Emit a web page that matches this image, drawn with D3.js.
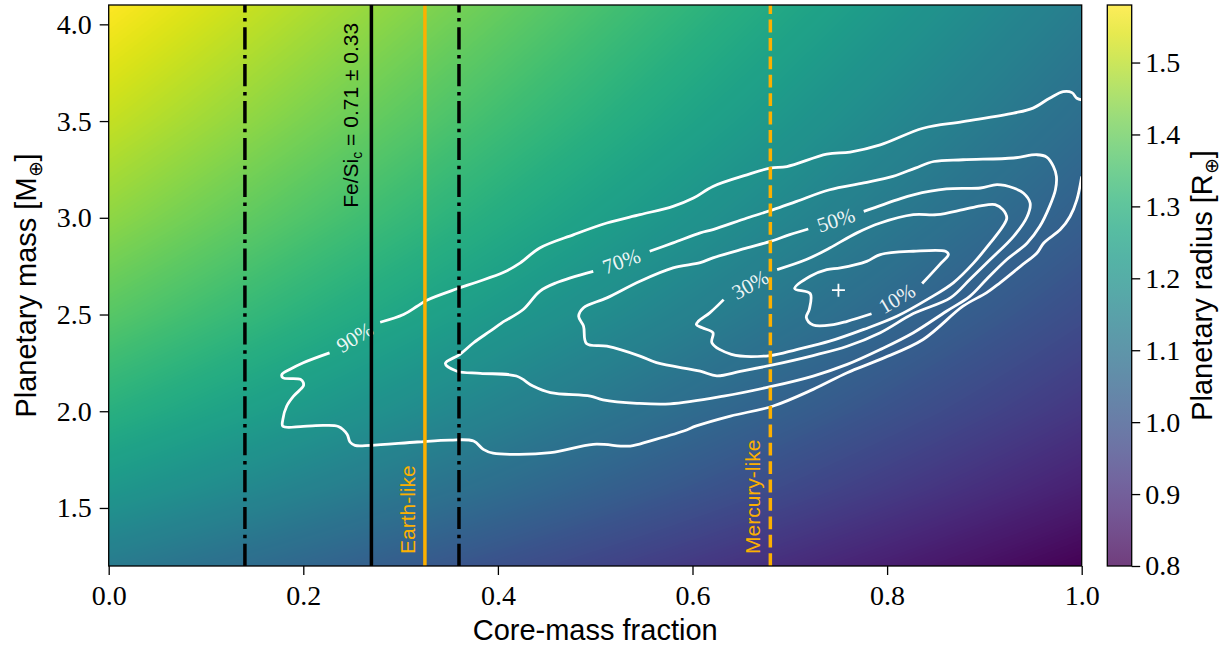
<!DOCTYPE html>
<html>
<head>
<meta charset="utf-8">
<style>
    body { margin: 0; background: #fff; }
    svg { display: block; }
    .tick text { font-family: "Liberation Serif", serif; font-size: 28px; fill: #000; }
    .tick line { stroke: #000; stroke-width: 1.3px; }
    .domain { display: none; }
    .axis-label { font-family: "Liberation Sans", Arial, sans-serif; font-size: 29px; fill: #000; }
    .note { font-family: "Liberation Sans", Arial, sans-serif; font-size: 21px; }
    .clabel { font-family: "Liberation Serif", serif; font-size: 21px; fill: #fff; }
</style>
</head>
<body>
<svg width="1229" height="648"></svg>
<script src="https://d3js.org/d3.v7.min.js"></script>
<script>
// model grid: rows = mass, columns = core-mass fraction
const cmfGrid = [0, 0.25, 0.5, 0.75, 1.0];
const massGrid = [1.2, 1.6, 2.0, 2.5, 3.0, 3.5, 4.1];
const radiusGrid = [
    [1.121, 1.041, 0.960, 0.880, 0.800],
    [1.215, 1.128, 1.041, 0.954, 0.867],
    [1.293, 1.201, 1.108, 1.015, 0.923],
    [1.377, 1.278, 1.180, 1.081, 0.982],
    [1.449, 1.345, 1.241, 1.137, 1.034],
    [1.512, 1.404, 1.296, 1.187, 1.079],
    [1.581, 1.468, 1.355, 1.241, 1.128]
];
const radiusRange = [0.8, 1.58];

const xTicks = [0, 0.2, 0.4, 0.6, 0.8, 1.0];
const yTicks = [1.5, 2.0, 2.5, 3.0, 3.5, 4.0];
const cbarTicks = [0.8, 0.9, 1.0, 1.1, 1.2, 1.3, 1.4, 1.5];

// Fe/Si_c constraint: lower, mean, upper core-mass fraction
const feSiCmf = [0.14, 0.27, 0.36];
const earthCmf = 0.325;
const mercuryCmf = 0.68;
const bestFit = [0.75, 2.626];

// posterior contours (cmf, mass), each starts just after its inline label
const contourNames = ["90%", "70%", "50%", "30%", "10%"];
const contour90 = [
    [0.279, 2.460], [0.303, 2.500], [0.317, 2.543], [0.327, 2.574], [0.358, 2.633], [0.378, 2.667],
    [0.406, 2.718], [0.423, 2.767], [0.443, 2.844], [0.478, 2.913], [0.512, 2.973], [0.546, 3.016],
    [0.580, 3.059], [0.601, 3.102], [0.621, 3.162], [0.656, 3.222], [0.680, 3.257], [0.697, 3.265],
    [0.738, 3.329], [0.762, 3.340], [0.793, 3.377], [0.837, 3.463], [0.878, 3.497], [0.930, 3.541],
    [0.950, 3.567], [0.967, 3.618], [0.981, 3.652], [0.990, 3.647], [0.995, 3.618], [1.000, 3.609],
    null,
    [1.000, 3.214], [0.995, 3.093], [0.988, 3.007], [0.978, 2.939], [0.961, 2.870], [0.954, 2.818],
    [0.937, 2.749], [0.916, 2.664], [0.902, 2.612], [0.878, 2.543], [0.837, 2.371], [0.793, 2.268],
    [0.759, 2.199], [0.724, 2.113], [0.683, 2.027], [0.639, 1.975], [0.604, 1.924], [0.591, 1.898],
    [0.556, 1.846], [0.536, 1.820], [0.498, 1.829], [0.454, 1.786], [0.395, 1.783], [0.385, 1.803],
    [0.375, 1.846], [0.351, 1.851], [0.317, 1.841], [0.269, 1.824], [0.253, 1.824], [0.248, 1.841],
    [0.245, 1.881], [0.236, 1.921], [0.221, 1.927], [0.200, 1.922], [0.179, 1.922], [0.179, 1.958],
    [0.183, 2.027], [0.190, 2.078], [0.200, 2.130], [0.200, 2.148], [0.197, 2.165], [0.179, 2.173],
    [0.178, 2.190], [0.186, 2.216], [0.200, 2.251], [0.227, 2.302]
];
const contour70 = [
    [0.556, 2.827], [0.580, 2.870], [0.608, 2.922], [0.621, 2.939], [0.656, 2.999], [0.683, 3.042],
    [0.707, 3.085], [0.741, 3.145], [0.776, 3.180], [0.806, 3.214], [0.829, 3.257], [0.848, 3.291],
    [0.878, 3.300], [0.930, 3.309], [0.954, 3.326], [0.964, 3.314], [0.971, 3.265], [0.974, 3.214],
    [0.973, 3.145], [0.967, 3.059], [0.957, 2.956], [0.944, 2.870], [0.923, 2.784], [0.902, 2.681],
    [0.885, 2.594], [0.861, 2.517], [0.827, 2.406], [0.793, 2.319], [0.759, 2.242], [0.724, 2.182],
    [0.680, 2.127], [0.632, 2.078], [0.577, 2.038], [0.543, 2.041], [0.508, 2.059], [0.495, 2.078],
    [0.454, 2.096], [0.436, 2.130], [0.419, 2.182], [0.382, 2.196], [0.358, 2.207], [0.346, 2.247],
    [0.361, 2.294], [0.375, 2.354], [0.392, 2.414], [0.404, 2.457], [0.426, 2.526], [0.443, 2.620],
    [0.460, 2.664], [0.498, 2.723]
];
const contour50 = [
    [0.776, 3.033], [0.810, 3.093], [0.827, 3.119], [0.861, 3.149], [0.896, 3.154], [0.913, 3.171],
    [0.930, 3.154], [0.940, 3.128], [0.947, 3.076], [0.944, 3.007], [0.930, 2.904], [0.906, 2.784],
    [0.885, 2.681], [0.865, 2.586], [0.827, 2.505], [0.793, 2.406], [0.759, 2.336], [0.724, 2.288],
    [0.680, 2.237], [0.649, 2.206], [0.625, 2.183], [0.608, 2.207], [0.563, 2.251], [0.546, 2.285],
    [0.512, 2.336], [0.491, 2.350], [0.488, 2.440], [0.483, 2.491], [0.488, 2.535], [0.512, 2.586],
    [0.546, 2.672], [0.580, 2.741], [0.608, 2.768], [0.621, 2.793], [0.656, 2.844], [0.680, 2.878],
    [0.700, 2.913], [0.719, 2.942]
];
const contour30 = [
    [0.687, 2.732], [0.717, 2.784], [0.741, 2.844], [0.769, 2.922], [0.793, 2.973], [0.827, 3.016],
    [0.851, 3.016], [0.878, 3.042], [0.896, 3.062], [0.911, 3.068], [0.919, 3.042], [0.923, 2.999],
    [0.919, 2.956], [0.906, 2.870], [0.889, 2.767], [0.868, 2.664], [0.844, 2.586], [0.810, 2.491],
    [0.776, 2.423], [0.741, 2.362], [0.707, 2.319], [0.680, 2.288], [0.640, 2.294], [0.620, 2.354],
    [0.621, 2.406], [0.610, 2.431], [0.604, 2.448], [0.606, 2.465], [0.618, 2.510], [0.632, 2.577]
];
const contour10 = [
    [0.836, 2.660], [0.854, 2.758], [0.863, 2.810], [0.860, 2.827], [0.827, 2.827], [0.793, 2.810],
    [0.779, 2.775], [0.752, 2.741], [0.738, 2.732], [0.721, 2.698], [0.705, 2.634], [0.721, 2.608],
    [0.720, 2.526], [0.717, 2.485], [0.724, 2.446], [0.745, 2.448], [0.759, 2.465], [0.784, 2.504]
];
const contours = [contour90, contour70, contour50, contour30, contour10];

const orange = "#fcb000";

let svg = d3.select("svg");
let plot = { left: 108.7, right: 1081.7, top: 5, bottom: 566 };

let x = d3.scaleLinear().domain([0, 1]).range([plot.left, plot.right]);
let y = d3.scaleLinear().domain([1.2, 4.1]).range([plot.bottom, plot.top]);
let cbar = d3.scaleLinear().domain(radiusRange).range([plot.bottom, plot.top]);

// viridis lookup
let lut = d3.range(256).map(i => d3.rgb(d3.interpolateViridis(i / 255)));
let toT = d3.scaleLinear().domain(radiusRange).range([0, 255]).clamp(true);

function radiusAt(c, m) {
    let i = Math.max(0, Math.min(d3.bisectRight(cmfGrid, c) - 1, cmfGrid.length - 2));
    let j = Math.max(0, Math.min(d3.bisectRight(massGrid, m) - 1, massGrid.length - 2));
    let tc = (c - cmfGrid[i]) / (cmfGrid[i + 1] - cmfGrid[i]);
    let tm = (m - massGrid[j]) / (massGrid[j + 1] - massGrid[j]);
    let lo = radiusGrid[j][i] * (1 - tc) + radiusGrid[j][i + 1] * tc;
    let hi = radiusGrid[j + 1][i] * (1 - tc) + radiusGrid[j + 1][i + 1] * tc;
    return lo * (1 - tm) + hi * tm;
}

// background map drawn into a canvas, then placed as an image
let W = Math.round(plot.right - plot.left), H = Math.round(plot.bottom - plot.top);
let canvas = document.createElement("canvas");
canvas.width = W;
canvas.height = H;
let ctx = canvas.getContext("2d");
let img = ctx.createImageData(W, H);
for (let py = 0; py < H; py++) {
    let m = y.invert(plot.top + (py + 0.5) * (plot.bottom - plot.top) / H);
    for (let px = 0; px < W; px++) {
        let c = x.invert(plot.left + (px + 0.5) * (plot.right - plot.left) / W);
        let col = lut[Math.round(toT(radiusAt(c, m)))];
        let k = (py * W + px) * 4;
        img.data[k] = col.r;
        img.data[k + 1] = col.g;
        img.data[k + 2] = col.b;
        img.data[k + 3] = 255;
    }
}
ctx.putImageData(img, 0, 0);

svg.append("defs").append("clipPath").attr("id", "plotclip")
    .append("rect")
    .attr("x", plot.left).attr("y", plot.top)
    .attr("width", plot.right - plot.left).attr("height", plot.bottom - plot.top);

svg.append("image")
    .attr("x", plot.left).attr("y", plot.top)
    .attr("width", plot.right - plot.left).attr("height", plot.bottom - plot.top)
    .attr("preserveAspectRatio", "none")
    .attr("href", canvas.toDataURL());

// contours
let line = d3.line()
    .defined(d => d !== null)
    .x(d => x(d[0]))
    .y(d => y(d[1]))
    .curve(d3.curveCatmullRom.alpha(0.5));

let contourG = svg.append("g").attr("clip-path", "url(#plotclip)");
contourG.selectAll(".contour")
    .data(contours)
    .join("path")
    .attr("class", "contour")
    .attr("d", d => line(d))
    .style("fill", "none")
    .style("stroke", "#fff")
    .style("stroke-width", "2.8px")
    .style("stroke-linejoin", "round");

// inline labels sit in the gap between the last and first point
svg.append("g").selectAll("text")
    .data(contours)
    .join("text")
    .attr("class", "clabel")
    .attr("text-anchor", "middle")
    .attr("dominant-baseline", "central")
    .attr("transform", d => {
        let a = d[d.length - 1], b = d[0];
        let x1 = x(a[0]), y1 = y(a[1]), x2 = x(b[0]), y2 = y(b[1]);
        let ang = Math.atan2(y2 - y1, x2 - x1) * 180 / Math.PI;
        return `translate(${(x1 + x2) / 2},${(y1 + y2) / 2}) rotate(${ang})`;
    })
    .style("opacity", 0.92)
    .text((d, i) => contourNames[i]);

// best-fit marker
let bx = x(bestFit[0]), by = y(bestFit[1]);
svg.append("path")
    .attr("d", `M${bx - 6.5},${by}H${bx + 6.5}M${bx},${by - 6.5}V${by + 6.5}`)
    .style("stroke", "#fff")
    .style("stroke-width", "1.8px");

// vertical reference lines
let vlines = svg.append("g");
function vline(v, color, dash) {
    vlines.append("line")
        .attr("x1", x(v)).attr("x2", x(v))
        .attr("y1", plot.bottom).attr("y2", plot.top)
        .style("stroke", color)
        .style("stroke-width", "3.5px")
        .style("stroke-dasharray", dash);
}
vline(feSiCmf[0], "#000", "22.2,5.6,3.5,5.6");
vline(feSiCmf[2], "#000", "22.2,5.6,3.5,5.6");
vline(feSiCmf[1], "#000", null);
vline(earthCmf, orange, null);
vline(mercuryCmf, orange, "12.8,5.6");

// notes along the lines
let fe = svg.append("text")
    .attr("class", "note")
    .attr("transform", `translate(${x(feSiCmf[1]) - 13},${y(3.052)}) rotate(-90)`)
    .style("fill", "#000");
fe.append("tspan").text("Fe/Si");
fe.append("tspan").attr("dy", 4).style("font-size", "14px").text("c");
fe.append("tspan").attr("dy", -4).text(" = 0.71 \u00b1 0.33");

svg.append("text")
    .attr("class", "note")
    .attr("transform", `translate(${x(earthCmf) - 10},${y(1.262)}) rotate(-90)`)
    .style("fill", orange)
    .text("Earth-like");

svg.append("text")
    .attr("class", "note")
    .attr("transform", `translate(${x(mercuryCmf) - 10},${y(1.262)}) rotate(-90)`)
    .style("fill", orange)
    .text("Mercury-like");

// axes
svg.append("g")
    .attr("class", "x axis")
    .attr("transform", `translate(0,${plot.bottom})`)
    .call(d3.axisBottom(x).tickValues(xTicks).tickSize(9).tickPadding(10).tickFormat(d3.format(".1f")));

svg.append("g")
    .attr("class", "y axis")
    .attr("transform", `translate(${plot.left},0)`)
    .call(d3.axisLeft(y).tickValues(yTicks).tickSize(9).tickPadding(8).tickFormat(d3.format(".1f")));

svg.append("rect")
    .attr("x", plot.left).attr("y", plot.top)
    .attr("width", plot.right - plot.left).attr("height", plot.bottom - plot.top)
    .style("fill", "none")
    .style("stroke", "#000")
    .style("stroke-width", "1.3px");

svg.append("text")
    .attr("class", "axis-label")
    .attr("x", (plot.left + plot.right) / 2)
    .attr("y", 640)
    .attr("text-anchor", "middle")
    .text("Core-mass fraction");

let yl = svg.append("text")
    .attr("class", "axis-label")
    .attr("text-anchor", "middle")
    .attr("transform", `translate(36,${(plot.top + plot.bottom) / 2}) rotate(-90)`);
yl.append("tspan").text("Planetary mass [M");
yl.append("tspan").attr("dy", 6).style("font-size", "19px").text("\u2295");
yl.append("tspan").attr("dy", -6).text("]");

// colorbar
let cb = { left: 1107.3, right: 1131.7 };
let grad = svg.select("defs").append("linearGradient")
    .attr("id", "cbgrad")
    .attr("x1", 0).attr("y1", 1).attr("x2", 0).attr("y2", 0);
grad.selectAll("stop")
    .data(d3.range(0, 1.0001, 0.05))
    .join("stop")
    .attr("offset", d => d)
    .attr("stop-color", d => d3.interpolateViridis(d));

svg.append("rect")
    .attr("x", cb.left).attr("y", plot.top)
    .attr("width", cb.right - cb.left).attr("height", plot.bottom - plot.top)
    .style("fill", "url(#cbgrad)")
    .style("opacity", 0.76);

svg.append("g")
    .attr("class", "c axis")
    .attr("transform", `translate(${cb.right},0)`)
    .call(d3.axisRight(cbar).tickValues(cbarTicks).tickSize(8.5).tickPadding(5).tickFormat(d3.format(".1f")));

svg.append("rect")
    .attr("x", cb.left).attr("y", plot.top)
    .attr("width", cb.right - cb.left).attr("height", plot.bottom - plot.top)
    .style("fill", "none")
    .style("stroke", "#000")
    .style("stroke-width", "1.3px");

let cl = svg.append("text")
    .attr("class", "axis-label")
    .attr("text-anchor", "middle")
    .attr("transform", `translate(1212,${(plot.top + plot.bottom) / 2}) rotate(-90)`);
cl.append("tspan").text("Planetary radius [R");
cl.append("tspan").attr("dy", 6).style("font-size", "19px").text("\u2295");
cl.append("tspan").attr("dy", -6).text("]");
</script>
</body>
</html>
